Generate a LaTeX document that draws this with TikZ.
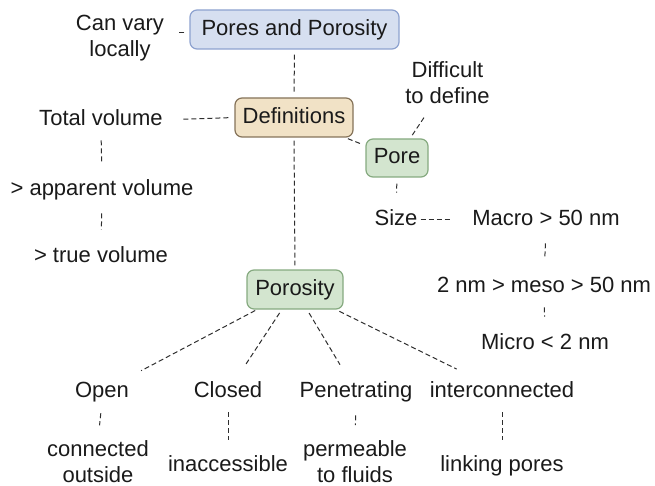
\documentclass[tikz,border=0pt]{standalone}
\usepackage{fontspec}
\setmainfont{Liberation Sans}
\begin{document}
\begin{tikzpicture}[x=1pt,y=-1pt,
  font=\fontsize{22}{26}\selectfont,
  every node/.style={text=ink},
  box/.style={draw, rounded corners=7pt, line width=1.2pt, inner sep=0pt,
    minimum height=39pt, text height=15.8pt, text depth=4.6pt},
  bluebox/.style={box, fill=blueF, draw=blueD},
  tanbox/.style={box, fill=tanF, draw=tanD},
  greenbox/.style={box, fill=greenF, draw=greenD},
  lbl/.style={inner sep=0pt, text height=15.8pt, text depth=4.6pt, anchor=base},
  lbltwo/.style={inner sep=0pt, align=center},
  conn/.style={draw=lineC, line width=1pt, dash pattern=on 5pt off 3pt}
]
\definecolor{ink}{HTML}{1A1A1A}
\definecolor{lineC}{HTML}{2E2E2E}
\definecolor{blueF}{HTML}{D6DFF0}
\definecolor{blueD}{HTML}{8DA2CF}
\definecolor{tanF}{HTML}{F1E2C6}
\definecolor{tanD}{HTML}{857359}
\definecolor{greenF}{HTML}{D3E5CF}
\definecolor{greenD}{HTML}{86AA80}

\useasboundingbox (0,0) rectangle (655,486);

% boxed concepts
\node[bluebox, minimum width=209pt] (pores) at (294.5,29.5) {Pores and Porosity};
\node[tanbox, minimum width=118pt] (defs) at (294,117.5) {Definitions};
\node[greenbox, minimum width=62pt, minimum height=38pt] (pore) at (397,158) {Pore};
\node[greenbox, minimum width=96pt] (porosity) at (295,289.5) {Porosity};

% plain labels
\node[lbltwo] (canvary) at (120,38.5) {Can vary\\locally};
\node[lbltwo] (difficult) at (447.5,82.3) {Difficult\\to define};
\node[lbl] (total) at (101,125.5) {Total volume};
\node[lbl] (apparent) at (102,195.5) {> apparent volume};
\node[lbl] (truevol) at (101,262.5) {> true volume};
\node[lbl] (size) at (396,225.5) {Size};
\node[lbl] (macro) at (546,225.5) {Macro > 50 nm};
\node[lbl] (meso) at (544,292.5) {2 nm > meso > 50 nm};
\node[lbl] (micro) at (545,349.5) {Micro < 2 nm};
\node[lbl] (open) at (102,397) {Open};
\node[lbl] (closed) at (228,397) {Closed};
\node[lbl] (pen) at (356,397) {Penetrating};
\node[lbl] (inter) at (502,397) {interconnected};
\node[lbltwo] (connected) at (98,461.5) {connected\\outside};
\node[lbl] (inacc) at (228,471.5) {inaccessible};
\node[lbltwo] (permeable) at (355,461.5) {permeable\\to fluids};
\node[lbl] (linking) at (502,471.5) {linking pores};

% connectors
\draw[conn, shorten <=5pt, shorten >=13pt]
  ([yshift=-3.5pt]pores.west) -- ([yshift=-3.5pt]pores.west -| canvary.east);
\draw[conn, shorten <=5pt, shorten >=4pt] (pores.south) -- (defs.north);
\draw[conn, shorten <=20.5pt, shorten >=6pt] (total.east) -- (defs.west);
\draw[conn, shorten <=10pt, shorten >=16.8pt] (total.south) -- (apparent.north);
\draw[conn, shorten <=13pt, shorten >=16.8pt] (apparent.south) -- (truevol.north);
\draw[conn, shorten <=3pt, shorten >=4pt] (defs.south) -- (porosity.north);
\draw[conn, shorten <=3pt, shorten >=4pt] (defs) -- (pore);
\draw[conn, shorten <=4pt, shorten >=14pt] (pore) -- (difficult);
\draw[conn, shorten <=6pt, shorten >=16.8pt] (pore.south) -- (size.north);
\draw[conn, shorten <=3pt, shorten >=21pt] (size.east) -- (macro.west);
\draw[conn, shorten <=13pt, shorten >=19.8pt] (macro.south) -- (meso.north);
\draw[conn, shorten <=10pt, shorten >=16.8pt] (meso.south) -- (micro.north);

\draw[conn, shorten <=2pt, shorten >=22pt] (porosity) -- (open);
\draw[conn, shorten <=4pt, shorten >=19pt] (porosity) -- (closed);
\draw[conn, shorten <=4pt, shorten >=19pt] (porosity) -- (pen);
\draw[conn, shorten <=4pt, shorten >=27pt] (porosity) -- (inter);

\draw[conn, shorten <=11.5pt, shorten >=15pt] (open.south) -- (connected.north);
\draw[conn, shorten <=10.5pt, shorten >=15.8pt] (closed.south) -- (inacc.north);
\draw[conn, shorten <=13.5pt, shorten >=15pt] (pen.south) -- (permeable.north);
\draw[conn, shorten <=10.5pt, shorten >=15.8pt] (inter.south) -- (linking.north);
\end{tikzpicture}
\end{document}
